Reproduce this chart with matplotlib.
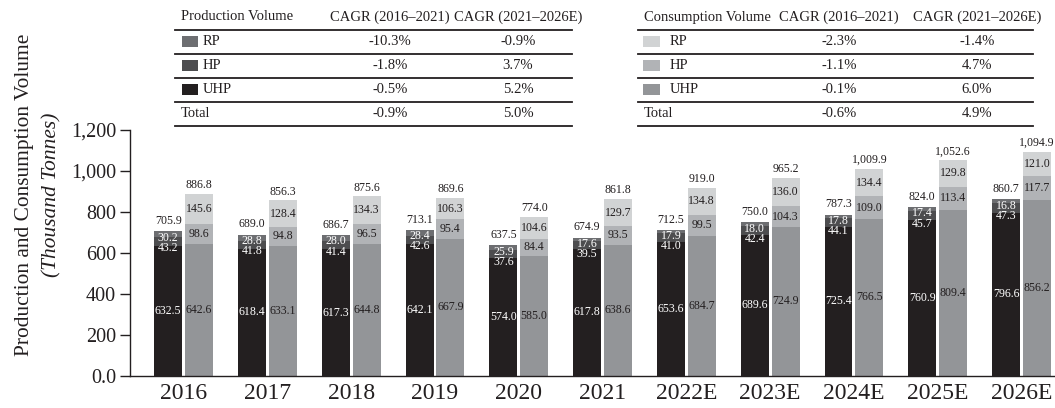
import matplotlib
matplotlib.use("Agg")
import matplotlib.pyplot as plt
from matplotlib.lines import Line2D
from matplotlib.patches import Rectangle
from matplotlib.ticker import FuncFormatter

plt.rcParams['font.family'] = ['Liberation Serif', 'DejaVu Serif']

years = ["2016", "2017", "2018", "2019", "2020", "2021",
         "2022E", "2023E", "2024E", "2025E", "2026E"]

# production volume (thousand tonnes)
prod_uhp = [632.5, 618.4, 617.3, 642.1, 574.0, 617.8, 653.6, 689.6, 725.4, 760.9, 796.6]
prod_hp = [43.2, 41.8, 41.4, 42.6, 37.6, 39.5, 41.0, 42.4, 44.1, 45.7, 47.3]
prod_rp = [30.2, 28.8, 28.0, 28.4, 25.9, 17.6, 17.9, 18.0, 17.8, 17.4, 16.8]
prod_total = [705.9, 689.0, 686.7, 713.1, 637.5, 674.9, 712.5, 750.0, 787.3, 824.0, 860.7]

# consumption volume (thousand tonnes)
cons_uhp = [642.6, 633.1, 644.8, 667.9, 585.0, 638.6, 684.7, 724.9, 766.5, 809.4, 856.2]
cons_hp = [98.6, 94.8, 96.5, 95.4, 84.4, 93.5, 99.5, 104.3, 109.0, 113.4, 117.7]
cons_rp = [145.6, 128.4, 134.3, 106.3, 104.6, 129.7, 134.8, 136.0, 134.4, 129.8, 121.0]
cons_total = [886.8, 856.3, 875.6, 869.6, 774.0, 861.8, 919.0, 965.2, 1009.9, 1052.6, 1094.9]

# CAGR tables
segments = ["RP", "HP", "UHP", "Total"]
prod_cagr_1 = ["-10.3%", "-1.8%", "-0.5%", "-0.9%"]
prod_cagr_2 = ["-0.9%", "3.7%", "5.2%", "5.0%"]
cons_cagr_1 = ["-2.3%", "-1.1%", "-0.1%", "-0.6%"]
cons_cagr_2 = ["-1.4%", "4.7%", "6.0%", "4.9%"]

prod_colors = {"UHP": "#231f20", "HP": "#4d4d4f", "RP": "#6d6e71"}
cons_colors = {"UHP": "#939598", "HP": "#b1b3b6", "RP": "#d1d3d4"}
ink = "#231f20"

W, H = 1055, 408
fig = plt.figure(figsize=(W / 100, H / 100), dpi=100)


def px(x, y):
    return x / W, 1 - y / H


ax = fig.add_axes([130 / W, (H - 375.7) / H, 1 - 130 / W, (375.7 - 130) / H])

bw = 0.334
off = 0.184
xs = list(range(len(years)))
xp = [x - off for x in xs]
xc = [x + off for x in xs]

ax.bar(xp, prod_uhp, bw, color=prod_colors["UHP"])
ax.bar(xp, prod_hp, bw, bottom=prod_uhp, color=prod_colors["HP"])
ax.bar(xp, prod_rp, bw, bottom=[a + b for a, b in zip(prod_uhp, prod_hp)],
       color=prod_colors["RP"])

ax.bar(xc, cons_uhp, bw, color=cons_colors["UHP"])
ax.bar(xc, cons_hp, bw, bottom=cons_uhp, color=cons_colors["HP"])
ax.bar(xc, cons_rp, bw, bottom=[a + b for a, b in zip(cons_uhp, cons_hp)],
       color=cons_colors["RP"])

fs_lab = 8.6
for i in xs:
    # production labels (the two thin segments are labelled just under the top)
    ax.text(xp[i], prod_uhp[i] / 2, f"{prod_uhp[i]:.1f}", ha='center', va='center',
            color='white', fontsize=fs_lab)
    ax.annotate(f"{prod_rp[i]:.1f}", (xp[i], prod_total[i]), xytext=(0, -4.6),
                textcoords='offset points', ha='center', va='center',
                color='white', fontsize=fs_lab)
    ax.annotate(f"{prod_hp[i]:.1f}", (xp[i], prod_total[i]), xytext=(0, -12),
                textcoords='offset points', ha='center', va='center',
                color='white', fontsize=fs_lab)
    ax.annotate(f"{prod_total[i]:,.1f}", (xp[i], prod_total[i]), xytext=(0, 3),
                textcoords='offset points', ha='center', va='bottom',
                color=ink, fontsize=fs_lab)
    # consumption labels
    ax.text(xc[i], cons_uhp[i] / 2, f"{cons_uhp[i]:.1f}", ha='center', va='center',
            color=ink, fontsize=fs_lab)
    ax.text(xc[i], cons_uhp[i] + cons_hp[i] / 2, f"{cons_hp[i]:.1f}", ha='center',
            va='center', color=ink, fontsize=fs_lab)
    ax.text(xc[i], cons_uhp[i] + cons_hp[i] + cons_rp[i] / 2, f"{cons_rp[i]:.1f}",
            ha='center', va='center', color=ink, fontsize=fs_lab)
    ax.annotate(f"{cons_total[i]:,.1f}", (xc[i], cons_total[i]), xytext=(0, 2),
                textcoords='offset points', ha='center', va='bottom',
                color=ink, fontsize=fs_lab)

ax.set_xlim(-0.64, 10.4)
ax.set_ylim(0, 1200)
ax.set_yticks([0, 200, 400, 600, 800, 1000, 1200])
ax.yaxis.set_major_formatter(FuncFormatter(lambda v, p: "0.0" if v == 0 else f"{v:,.0f}"))
ax.set_xticks(xs)
ax.set_xticklabels(years)
ax.tick_params(axis='y', labelsize=14.5, length=7, width=1, colors=ink, pad=3)
ax.tick_params(axis='x', labelsize=17, length=0, colors=ink, pad=5)
for s in ['top', 'right']:
    ax.spines[s].set_visible(False)
for s in ['left', 'bottom']:
    ax.spines[s].set_color(ink)
    ax.spines[s].set_linewidth(1.0)

# y label, two lines
fig.text(*px(25, 195), "Production and Consumption Volume", rotation=90,
         ha='center', va='center', fontsize=15.4, color=ink)
fig.text(*px(52, 195), "(Thousand Tonnes)", rotation=90, style='italic',
         ha='center', va='center', fontsize=15.4, color=ink)


def draw_table(x0, x1, title, sw_x, lab_x, col1, col2, colors, v1, v2):
    fs = 10.5
    fig.text(*px(x0 + 6, 17), title, ha='left', va='center', fontsize=fs, color=ink)
    fig.text(*px(col1, 17), "CAGR (2016\u20132021)", ha='center', va='center',
             fontsize=fs, color=ink)
    fig.text(*px(col2, 17), "CAGR (2021\u20132026E)", ha='center', va='center',
             fontsize=fs, color=ink)
    for yl in [29.5, 53.5, 77.5, 101.5, 125.5]:
        fig.add_artist(Line2D([x0 / W, x1 / W], [1 - yl / H, 1 - yl / H],
                              color=ink, lw=1.3, transform=fig.transFigure))
    for k, (seg, a, b) in enumerate(zip(segments, v1, v2)):
        yc = 41.5 + 24 * k
        if seg in colors:
            fig.add_artist(Rectangle(px(sw_x, yc + 5), 16.5 / W, 10.5 / H,
                                     facecolor=colors[seg], edgecolor='none',
                                     transform=fig.transFigure))
            fig.text(*px(lab_x, yc), seg, ha='left', va='center', fontsize=fs, color=ink)
        else:
            fig.text(*px(x0 + 6, yc), seg, ha='left', va='center', fontsize=fs, color=ink)
        fig.text(*px(col1, yc), a, ha='center', va='center', fontsize=fs, color=ink)
        fig.text(*px(col2, yc), b, ha='center', va='center', fontsize=fs, color=ink)


draw_table(175, 572, "Production Volume", 181.5, 203, 390, 518, prod_colors,
           prod_cagr_1, prod_cagr_2)
draw_table(638, 1033, "Consumption Volume", 643, 670, 839, 977, cons_colors,
           cons_cagr_1, cons_cagr_2)

fig.savefig("out.png", dpi=100)
